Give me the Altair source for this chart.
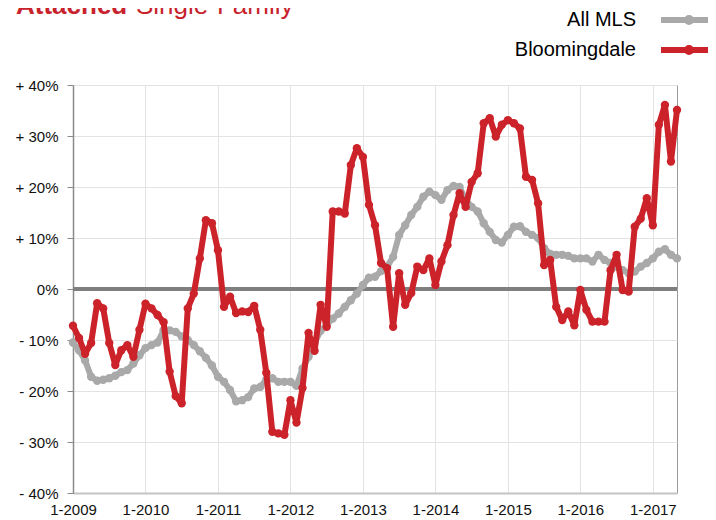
import altair as alt
import pandas as pd

# months since Jan 2009 (0 = 1-2009 ... 100 = 5-2017)
MONTHS = list(range(101))

ALL_MLS = [
    -10.5, -12, -14, -17.2, -18, -17.8, -17.5, -17, -16.3, -15.9, -14.6, -13,
    -11.6, -11, -10.5, -8.1, -8.1, -8.4, -9.3, -10, -11, -12.2, -13.5, -15,
    -17.2, -18.2, -19.8, -22, -21.8, -21.2, -19.5, -19.2, -17.8, -17.5, -18.2, -18.2,
    -18.2, -19, -15.6, -13.3, -10.5, -8.2, -7, -5.8, -4.8, -3.5, -2.2, -0.9,
    0.8, 2.2, 2.4, 3.5, 4.4, 6.3, 10.6, 12.5, 14.5, 16.1, 18.1, 19.1,
    18.4, 17.5, 19.4, 20.2, 20, 17.5, 16.1, 15.2, 12.9, 11.2, 9.6, 9.1,
    10.6, 12.2, 12.3, 11.2, 10.6, 10, 8, 6.9, 6.7, 6.7, 6.5, 6,
    6, 6, 5.4, 6.7, 5.7, 5.1, 4.4, 3.7, 3.1, 3.4, 4.4, 5.1,
    6, 7.3, 7.8, 6.7, 6,
]

BLOOMINGDALE = [
    -7.2, -9.6, -12.7, -10.6, -2.8, -3.8, -10.6, -14.9, -12, -11, -13.3, -8,
    -2.9, -3.8, -5.1, -6.5, -16.2, -21, -22.4, -3.8, -0.9, 6, 13.5, 12.9,
    7.6, -3.5, -1.5, -4.7, -4.4, -4.5, -3.3, -8, -16.4, -28, -28.3, -28.6,
    -21.8, -26.2, -19.4, -8.6, -12.1, -3.1, -7.4, 15.2, 15.2, 14.8, 24.3, 27.6,
    25.9, 16.5, 12.5, 5.1, 4.1, -7.4, 3.1, -3.1, -0.8, 4.4, 3.7, 6,
    0.8, 5.4, 8.6, 14.5, 18.8, 16.1, 21, 22.7, 32.5, 33.5, 29.9, 32.2,
    33.1, 32.5, 31.5, 22, 21.4, 16.8, 4.7, 5.7, -3.5, -6.1, -4.4, -7.1,
    -0.2, -4.1, -6.4, -6.4, -6.4, 3.7, 6.7, -0.2, -0.5, 12.2, 13.8, 17.8,
    12.5, 32.2, 36.1, 25, 35.1,
]

SERIES = ["All MLS", "Bloomingdale"]
COLORS = ["#a9a9a9", "#cc2229"]
YEAR_TICKS = [0, 12, 24, 36, 48, 60, 72, 84, 96]
Y_TICKS = [-40, -30, -20, -10, 0, 10, 20, 30, 40]
TITLE_BOLD = "Attached"
TITLE_REST = "Single-Family"

df_gray = pd.DataFrame({"m": MONTHS, "v": ALL_MLS, "s": SERIES[0]})
df_red = pd.DataFrame({"m": MONTHS, "v": BLOOMINGDALE, "s": SERIES[1]})

FONT = "Liberation Sans"

x_enc = alt.X(
    "m:Q",
    scale=alt.Scale(domain=[0, 100], nice=False, zero=False),
    axis=alt.Axis(
        values=YEAR_TICKS,
        labelExpr="'1-' + (2009 + datum.value / 12)",
        title=None,
        ticks=False,
        domainColor="#c4c4c4",
        domainWidth=2,
        labelPadding=9,
        labelFontSize=15,
        labelFont=FONT,
        labelColor="#111",
        gridColor="#e3e3e3",
        labelFlush=False,
    ),
)
y_enc = alt.Y(
    "v:Q",
    scale=alt.Scale(domain=[-40, 40], nice=False),
    axis=alt.Axis(
        values=Y_TICKS,
        labelExpr="datum.value > 0 ? '+ ' + datum.value + '%' : (datum.value < 0 ? '- ' + abs(datum.value) + '%' : '0%')",
        title=None,
        domainColor="#8a8a8a",
        domainWidth=1.5,
        tickColor="#8a8a8a",
        tickSize=6,
        labelPadding=9,
        labelFontSize=15,
        labelFont=FONT,
        labelColor="#111",
        gridColor="#e3e3e3",
    ),
)
color_enc = alt.Color(
    "s:N",
    scale=alt.Scale(domain=SERIES, range=COLORS),
    legend=alt.Legend(
        title=None,
        orient="none",
        legendX=606,
        legendY=-75,
        padding=0,
        symbolType="M-4,0H4M-0.3,0A0.3,0.3,0,1,0,0.3,0A0.3,0.3,0,1,0,-0.3,0",
        symbolSize=196,
        symbolStrokeWidth=6,
        labelAlign="right",
        labelOffset={"expr": "-63"},
        labelFontSize=20,
        labelFont=FONT,
        labelColor="black",
        labelLimit=0,
        rowPadding=0,
    ),
)

def series_layer(d):
    return alt.Chart(d).mark_line(
        strokeWidth=6,
        strokeJoin="round",
        strokeCap="round",
        point=alt.OverlayMarkDef(filled=True, size=70, opacity=1),
    ).encode(x=x_enc, y=y_enc, color=color_enc)

zero = alt.Chart(pd.DataFrame({"z": [0]})).mark_rule(color="#7f7f7f", strokeWidth=4).encode(y="z:Q")

title_bold = alt.Chart(pd.DataFrame({"t": [TITLE_BOLD]})).mark_text(
    font=FONT, fontSize=26, fontWeight="bold", color="#c8232c",
    align="left", baseline="alphabetic",
).encode(text="t:N", x=alt.value(-57), y=alt.value(-71))
title_rest = alt.Chart(pd.DataFrame({"t": [TITLE_REST]})).mark_text(
    font=FONT, fontSize=26, color="#c8232c",
    align="left", baseline="alphabetic",
).encode(text="t:N", x=alt.value(63), y=alt.value(-71))

chart = alt.layer(zero, series_layer(df_gray), series_layer(df_red), title_bold, title_rest).properties(
    width=604,
    height=408,
    autosize=alt.AutoSizeParams(type="none"),
    padding={"left": 65, "top": 77, "right": 31, "bottom": 25},
    background="white",
).configure_view(stroke="#9a9a9a", strokeWidth=1)

chart.save("out.html", embed_options={"renderer": "svg", "actions": False})
